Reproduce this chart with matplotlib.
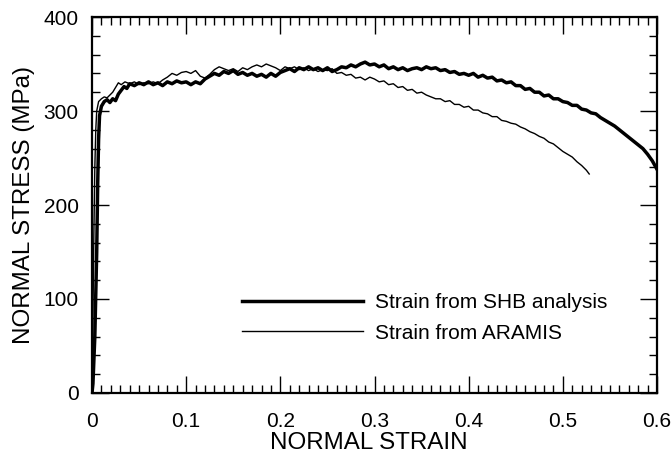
import matplotlib
matplotlib.use("Agg")
import matplotlib.pyplot as plt
from matplotlib.ticker import MultipleLocator

plt.rcParams['font.family'] = ['Liberation Sans', 'DejaVu Sans']

# Strain from SHB analysis (thick line)
shb_strain = [0.000, 0.001, 0.003, 0.005, 0.006, 0.007, 0.008, 0.010, 0.013, 0.016, 0.019,
              0.022, 0.025, 0.028, 0.031, 0.034, 0.037, 0.040, 0.045, 0.050, 0.055,
              0.060, 0.065, 0.070, 0.075, 0.080, 0.085, 0.090, 0.095, 0.100, 0.105,
              0.110, 0.115, 0.120, 0.125, 0.130, 0.135, 0.140, 0.145, 0.150, 0.155,
              0.160, 0.165, 0.170, 0.175, 0.180, 0.185, 0.190, 0.195, 0.200, 0.205,
              0.210, 0.215, 0.220, 0.225, 0.230, 0.235, 0.240, 0.245, 0.250, 0.255,
              0.260, 0.265, 0.270, 0.275, 0.280, 0.285, 0.290, 0.295, 0.300, 0.305,
              0.310, 0.315, 0.320, 0.325, 0.330, 0.335, 0.340, 0.345, 0.350, 0.355,
              0.360, 0.365, 0.370, 0.375, 0.380, 0.385, 0.390, 0.395, 0.400, 0.405,
              0.410, 0.415, 0.420, 0.425, 0.430, 0.435, 0.440, 0.445, 0.450, 0.455,
              0.460, 0.465, 0.470, 0.475, 0.480, 0.485, 0.490, 0.495, 0.500, 0.505,
              0.510, 0.515, 0.520, 0.525, 0.530, 0.535, 0.540, 0.545, 0.550, 0.555,
              0.560, 0.565, 0.570, 0.575, 0.580, 0.585, 0.590, 0.595, 0.600]
shb_stress = [0, 10, 60, 150, 220, 270, 295, 305, 310, 312, 309,
              313, 311, 318, 322, 326, 324, 329, 327, 330, 328,
              331, 328, 330, 327, 331, 329, 332, 330, 331, 328,
              331, 329, 334, 337, 340, 338, 342, 340, 343, 339,
              341, 338, 340, 337, 339, 336, 340, 337, 341, 343,
              345, 342, 346, 344, 347, 344, 346, 343, 346, 342,
              344, 347, 346, 349, 347, 350, 352, 349, 350, 347,
              349, 345, 347, 344, 346, 343, 345, 346, 344, 347,
              345, 346, 343, 344, 341, 342, 339, 340, 338, 340,
              336, 338, 335, 336, 332, 333, 330, 331, 327, 327,
              323, 324, 320, 320, 316, 317, 313, 313, 310, 309,
              306, 306, 302, 301, 298, 297, 293, 290, 287, 284,
              280, 276, 272, 268, 264, 260, 254, 247, 238]

# Strain from ARAMIS (thin line)
aramis_strain = [0.000, 0.001, 0.002, 0.003, 0.004, 0.005, 0.007, 0.010, 0.013, 0.016,
                 0.019, 0.022, 0.025, 0.028, 0.031, 0.035, 0.040, 0.045, 0.050, 0.055,
                 0.060, 0.065, 0.070, 0.075, 0.080, 0.085, 0.090, 0.095, 0.100, 0.105,
                 0.110, 0.115, 0.120, 0.125, 0.130, 0.135, 0.140, 0.145, 0.150, 0.155,
                 0.160, 0.165, 0.170, 0.175, 0.180, 0.185, 0.190, 0.195, 0.200, 0.205,
                 0.210, 0.215, 0.220, 0.225, 0.230, 0.235, 0.240, 0.245, 0.250, 0.255,
                 0.260, 0.265, 0.270, 0.275, 0.280, 0.285, 0.290, 0.295, 0.300, 0.305,
                 0.310, 0.315, 0.320, 0.325, 0.330, 0.335, 0.340, 0.345, 0.350, 0.355,
                 0.360, 0.365, 0.370, 0.375, 0.380, 0.385, 0.390, 0.395, 0.400, 0.405,
                 0.410, 0.415, 0.420, 0.425, 0.430, 0.435, 0.440, 0.445, 0.450, 0.455,
                 0.460, 0.465, 0.470, 0.475, 0.480, 0.485, 0.490, 0.495, 0.500, 0.505,
                 0.510, 0.515, 0.520, 0.525, 0.528]
aramis_stress = [0, 80, 170, 240, 280, 300, 310, 313, 315, 314,
                 317, 320, 325, 330, 328, 331, 329, 331, 328, 330,
                 329, 331, 329, 333, 336, 340, 338, 341, 342, 340,
                 343, 337, 335, 339, 344, 347, 345, 343, 345, 342,
                 346, 344, 347, 349, 347, 350, 348, 346, 343, 347,
                 345, 347, 344, 346, 343, 345, 342, 344, 343, 345,
                 340, 341, 338, 339, 335, 336, 333, 336, 334, 331,
                 332, 328, 329, 325, 326, 322, 323, 319, 320, 317,
                 315, 313, 313, 310, 311, 307, 307, 304, 305, 301,
                 301, 298, 297, 294, 294, 290, 289, 287, 286, 283,
                 281, 278, 276, 273, 271, 267, 265, 261, 257, 254,
                 251, 246, 242, 237, 233]

x_ticks = [0, 0.1, 0.2, 0.3, 0.4, 0.5, 0.6]
x_ticklabels = ['0', '0.1', '0.2', '0.3', '0.4', '0.5', '0.6']
y_ticks = [0, 100, 200, 300, 400]
y_ticklabels = ['0', '100', '200', '300', '400']

fig = plt.figure(figsize=(6.71, 4.55), dpi=100)
ax = fig.add_axes([92/671, 62/455, 565/671, 376/455])

ax.plot(shb_strain, shb_stress, color='black', lw=2.5, label='Strain from SHB analysis')
ax.plot(aramis_strain, aramis_stress, color='black', lw=1.0, label='Strain from ARAMIS')

ax.set_xlim(0, 0.6)
ax.set_ylim(0, 400)
ax.set_xticks(x_ticks)
ax.set_xticklabels(x_ticklabels)
ax.set_yticks(y_ticks)
ax.set_yticklabels(y_ticklabels)
ax.xaxis.set_minor_locator(MultipleLocator(0.01))
ax.yaxis.set_minor_locator(MultipleLocator(20))

ax.tick_params(which='both', direction='in', top=True, right=True, labelsize=15, width=1)
ax.tick_params(axis='x', which='both', pad=13.5)
ax.tick_params(axis='y', which='both', pad=9.5)
ax.tick_params(which='major', length=12)
ax.tick_params(which='minor', length=6)
for s in ax.spines.values():
    s.set_linewidth(1.6)

ax.set_xlabel('NORMAL STRAIN', fontsize=17.4, labelpad=1, x=0.49)
ax.set_ylabel('NORMAL STRESS (MPa)', fontsize=17.4, labelpad=6)

leg = ax.legend(loc='center left', bbox_to_anchor=(150/565, 0.2), frameon=False,
                fontsize=15, handlelength=5.8, handletextpad=0.58, labelspacing=0.55,
                borderpad=0, borderaxespad=0)

fig.savefig('out.png', dpi=100)
